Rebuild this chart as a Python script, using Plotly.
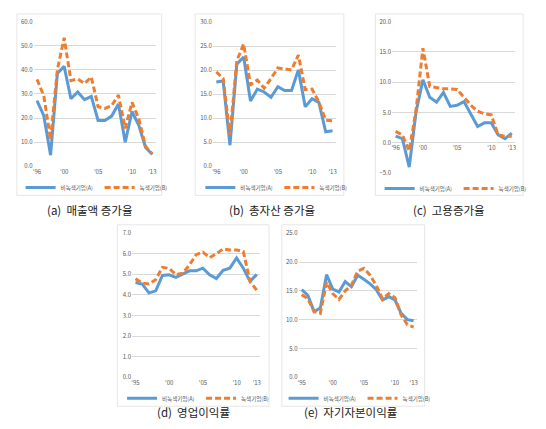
import plotly.graph_objects as go

# The page body has an 8px margin, so the figure is drawn 8px in from the
# window's top-left corner; positions below are in window pixels.
OFF = 8
W, H = 530, 413

years_18 = [1996, 1997, 1998, 1999, 2000, 2001, 2002, 2003, 2004, 2005,
            2006, 2007, 2008, 2009, 2010, 2011, 2012, 2013]
years_19 = [1995, 1996, 1997, 1998, 1999, 2000, 2001, 2002, 2003, 2004, 2005,
            2006, 2007, 2008, 2009, 2010, 2011, 2012, 2013]

tick_vals_18 = [1996, 2000, 2005, 2010, 2013]
tick_text_18 = ["'96", "'00", "'05", "'10", "'13"]
tick_vals_19 = [1995, 2000, 2005, 2010, 2013]
tick_text_19 = ["'95", "'00", "'05", "'10", "'13"]

series_names = ["비녹색기업(A)", "녹색기업(B)"]

# (a) 매출액 증가율
sales_A = [27.2, 21.0, 4.6, 38.5, 41.4, 28.0, 30.8, 27.6, 29.0, 19.0, 19.0, 20.8, 25.8, 10.0, 22.7, 17.0, 7.8, 4.9]
sales_B = [36.0, 29.2, 11.0, 40.0, 53.2, 35.5, 36.2, 34.3, 37.0, 24.7, 24.0, 25.1, 29.5, 15.7, 26.5, 19.7, 8.2, 5.1]
# (b) 총자산 증가율
assets_A = [17.6, 17.8, 4.4, 21.3, 22.8, 13.6, 16.1, 15.5, 14.4, 16.6, 15.8, 15.8, 20.1, 12.4, 14.1, 13.3, 7.2, 7.4]
assets_B = [19.7, 18.3, 6.5, 22.0, 25.5, 17.0, 18.0, 16.3, 18.3, 20.5, 20.3, 20.1, 23.2, 16.0, 16.1, 13.4, 9.6, 9.5]
# (c) 고용증가율
employ_A = [1.1, 0.7, -4.0, 5.1, 10.4, 7.5, 6.7, 8.3, 6.0, 6.2, 6.8, 4.8, 2.7, 3.3, 3.3, 1.3, 0.7, 1.6]
employ_B = [1.9, 1.3, -1.3, 5.4, 15.6, 9.3, 9.1, 8.9, 8.9, 8.8, 7.5, 6.2, 5.2, 4.8, 4.6, 1.3, 1.1, 1.1]
# (d) 영업이익률
opmargin_A = [4.6, 4.53, 4.1, 4.2, 4.95, 4.98, 4.85, 5.0, 5.17, 5.17, 5.3, 4.98, 4.8, 5.2, 5.3, 5.8, 5.3, 4.66, 5.0]
opmargin_B = [4.79, 4.58, 4.53, 4.74, 5.34, 5.29, 4.98, 5.06, 5.45, 5.96, 6.08, 5.81, 6.0, 6.24, 6.19, 6.19, 6.11, 4.66, 4.22]
# (e) 자기자본이익률
roe_A = [15.2, 14.2, 11.4, 12.0, 17.8, 15.3, 14.8, 16.6, 15.7, 17.7, 17.0, 16.2, 15.2, 13.4, 14.0, 13.4, 11.1, 10.0, 9.8]
roe_B = [14.3, 13.6, 11.4, 11.1, 16.5, 14.5, 13.5, 15.0, 16.0, 18.4, 18.9, 17.7, 15.9, 13.6, 14.5, 13.8, 10.8, 9.1, 8.7]

captions = ["(a)  매출액 증가율", "(b)  총자산 증가율", "(c)  고용증가율",
            "(d)  영업이익률", "(e)  자기자본이익률"]

BLUE = "#5B9BD5"
ORANGE = "#ED7D31"
GRID = "#D9D9D9"
TXT = "#595959"
FONT = "Noto Sans CJK KR"


def px(x):
    return (x - OFF) / W


def py(y):
    return 1 - (y - OFF) / H


panels = [
    dict(x=years_18, A=sales_A, B=sales_B, tv=tick_vals_18, tt=tick_text_18,
         xr=[1995.5, 2013.5], yr=[0, 60], dt=10,
         plot=(33, 157, 17, 166), box=(16, 163, 10, 195), leg=187, cap=(90, 210)),
    dict(x=years_18, A=assets_A, B=assets_B, tv=tick_vals_18, tt=tick_text_18,
         xr=[1995.5, 2013.5], yr=[0, 30], dt=5,
         plot=(215, 340, 18, 166), box=(197, 348, 10, 195), leg=187, cap=(275, 210)),
    dict(x=years_18, A=employ_A, B=employ_B, tv=tick_vals_18, tt=tick_text_18,
         xr=[1995.5, 2013.5], yr=[-5, 20], dt=5,
         plot=(397, 522, 17, 173), box=(380, 530, 10, 195), leg=188, cap=(455, 210)),
    dict(x=years_19, A=opmargin_A, B=opmargin_B, tv=tick_vals_19, tt=tick_text_19,
         xr=[1994.5, 2013.5], yr=[0, 7], dt=1,
         plot=(133, 263, 233, 381), box=(118, 272, 225, 410), leg=402, cap=(195, 416)),
    dict(x=years_19, A=roe_A, B=roe_B, tv=tick_vals_19, tt=tick_text_19,
         xr=[1994.5, 2013.5], yr=[0, 25], dt=5,
         plot=(302, 422, 233, 381), box=(285, 430, 225, 410), leg=402, cap=(355, 416)),
]

fig = go.Figure()
layout = dict(
    width=W, height=H, margin=dict(l=0, r=0, t=0, b=0),
    paper_bgcolor="white", plot_bgcolor="white",
    font=dict(family=FONT, color=TXT, size=6),
    shapes=[], annotations=[],
)

for i, p in enumerate(panels):
    n = "" if i == 0 else str(i + 1)
    leg = "legend" if i == 0 else f"legend{i + 1}"
    x0, x1, y0, y1 = p["plot"]
    fig.add_trace(go.Scatter(x=p["x"], y=p["A"], name=series_names[0], mode="lines",
                             line=dict(color=BLUE, width=3),
                             xaxis=f"x{n}", yaxis=f"y{n}", legend=leg))
    fig.add_trace(go.Scatter(x=p["x"], y=p["B"], name=series_names[1], mode="lines",
                             line=dict(color=ORANGE, width=3, dash="6px,3px"),
                             xaxis=f"x{n}", yaxis=f"y{n}", legend=leg))
    xdom = [px(x0), px(x1)]
    ydom = [py(y1), py(y0)]
    lo, hi = p["yr"]
    pad = (hi - lo) * 0.004
    xa = dict(domain=xdom, range=p["xr"], tickvals=p["tv"], ticktext=p["tt"],
              showgrid=False, zeroline=False, showline=False, ticks="",
              tickfont=dict(size=6, color=TXT), anchor=f"y{n}")
    if lo < 0:
        frac = (0 - lo) / (hi - lo)
        xa["anchor"] = "free"
        xa["position"] = ydom[0] + frac * (ydom[1] - ydom[0])
    ya = dict(domain=ydom, range=[lo - pad, hi + pad], dtick=p["dt"], tick0=0,
              tickformat=".1f", showgrid=True, gridcolor=GRID, gridwidth=1,
              zeroline=False, showline=False, ticks="",
              tickfont=dict(size=6, color=TXT), anchor=f"x{n}")
    layout[f"xaxis{n}"] = xa
    layout[f"yaxis{n}"] = ya
    layout[leg] = dict(orientation="h", x=px((x0 + x1) / 2 + 5), xanchor="center",
                       y=py(p["leg"]), yanchor="middle",
                       font=dict(size=5.5, color=TXT, family=FONT),
                       bgcolor="rgba(0,0,0,0)", itemwidth=30, tracegroupgap=0,
                       entrywidth=34, entrywidthmode="pixels")
    bx0, bx1, by0, by1 = p["box"]
    layout["shapes"].append(dict(type="rect", xref="paper", yref="paper",
                                 x0=px(bx0), x1=px(bx1), y0=py(by1), y1=py(by0),
                                 line=dict(color="#E6E6E6", width=1), layer="below"))
    cx, cy = p["cap"]
    layout["annotations"].append(dict(text=captions[i], xref="paper", yref="paper",
                                      x=px(cx), y=py(cy), xanchor="center",
                                      yanchor="middle", showarrow=False,
                                      font=dict(size=11.5, color="#222222", family=FONT)))

fig.update_layout(**layout)
fig.write_html("out.html")
